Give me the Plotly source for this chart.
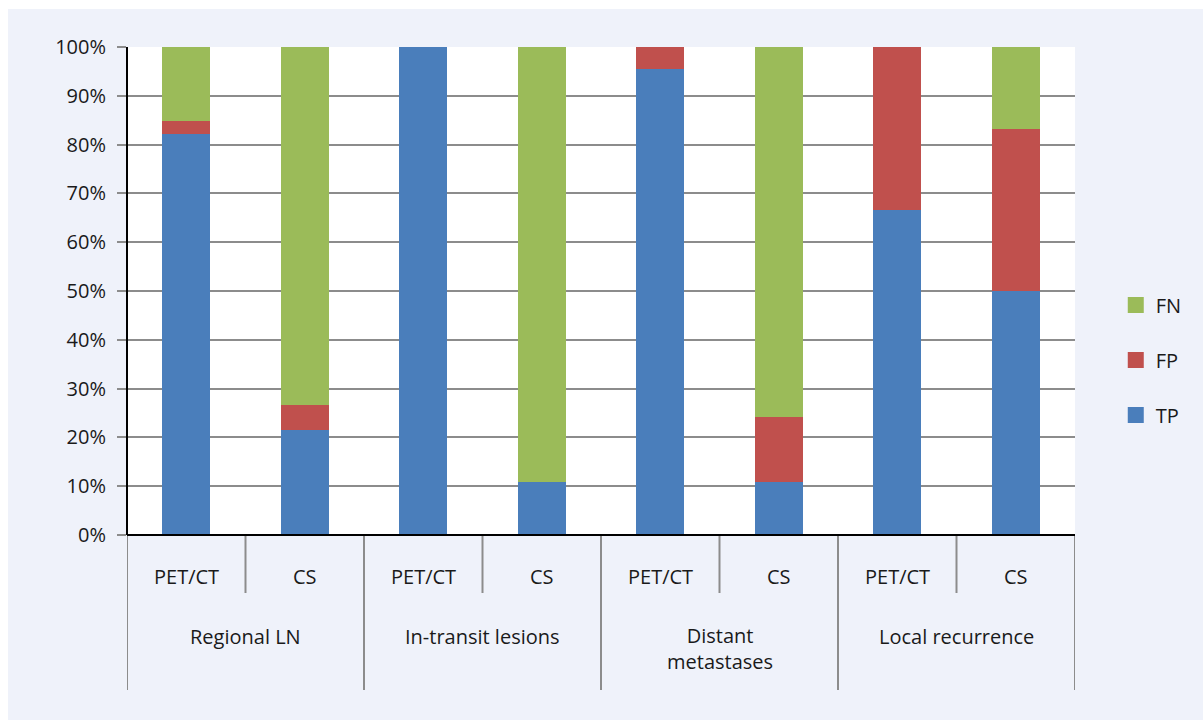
import plotly.graph_objects as go

groups = ["Regional LN", "In-transit lesions", "Distant<br>metastases", "Local recurrence"]
methods = ["PET/CT", "CS"]
tp = [82.2, 21.5, 100.0, 10.9, 95.5, 10.9, 66.7, 50.0]
fp = [2.6, 5.2, 0.0, 0.0, 4.5, 13.2, 33.3, 33.3]
fn = [15.2, 73.3, 0.0, 89.1, 0.0, 75.9, 0.0, 16.7]
y_ticks = [0, 10, 20, 30, 40, 50, 60, 70, 80, 90, 100]

series = [("TP", tp, "#4A7EBB"), ("FP", fp, "#C0504D"), ("FN", fn, "#9BBB59")]

FONT = "Open Sans, Noto Sans, sans-serif"
FS = 20
TXT = "#1a1a1a"
GRID = "#8c8c8c"

x = list(range(len(tp)))
fig = go.Figure()
for name, vals, col in series:
    fig.add_trace(go.Bar(x=x, y=vals, name=name, marker=dict(color=col, line=dict(width=0)),
                         width=0.405, showlegend=False))
# legend entries (top to bottom: FN, FP, TP)
for name, vals, col in reversed(series):
    fig.add_trace(go.Scatter(x=[None], y=[None], mode="markers", name=name,
                             legendgroup=name,
                             marker=dict(symbol="square", size=16, color=col)))

shapes = []
# white margin strips at top/left
shapes.append(dict(type="rect", xref="paper", yref="paper", x0=-0.2, x1=1.2,
                   y0=(535 - 9) / 488, y1=1.2, fillcolor="white", line=dict(width=0), layer="below"))
shapes.append(dict(type="rect", xref="paper", yref="paper", x0=-0.2, x1=(8 - 127) / 948,
                   y0=-0.5, y1=1.2, fillcolor="white", line=dict(width=0), layer="below"))
# group dividers
for gx in [-0.5, 1.5, 3.5, 5.5, 7.5]:
    shapes.append(dict(type="line", xref="x", yref="paper", x0=gx, x1=gx,
                       y0=0, y1=(535 - 690) / 488, line=dict(color=GRID, width=2)))
# inner dividers
for ix in [0.5, 2.5, 4.5, 6.5]:
    shapes.append(dict(type="line", xref="x", yref="paper", x0=ix, x1=ix,
                       y0=0, y1=(535 - 593) / 488, line=dict(color=GRID, width=2)))
# axis lines
shapes.append(dict(type="line", xref="paper", yref="paper", x0=0, x1=1, y0=0, y1=0,
                   line=dict(color="black", width=2)))
shapes.append(dict(type="line", xref="paper", yref="paper", x0=0, x1=0, y0=0, y1=1,
                   line=dict(color="black", width=2)))

annotations = []
for i in x:
    annotations.append(dict(x=i, y=(535 - 576) / 488, xref="x", yref="paper",
                            text=methods[i % 2], showarrow=False, yanchor="middle",
                            font=dict(family=FONT, size=FS, color=TXT)))
for g, name in enumerate(groups):
    ypx = 648 if "<br>" in name else 636
    annotations.append(dict(x=2 * g + 0.5, y=(535 - ypx) / 488, xref="x", yref="paper",
                            text=name, showarrow=False, yanchor="middle",
                            font=dict(family=FONT, size=FS, color=TXT)))

fig.update_layout(
    width=1203, height=720,
    barmode="stack",
    paper_bgcolor="#eff2fa",
    plot_bgcolor="white",
    margin=dict(l=127, r=128, t=47, b=185),
    font=dict(family=FONT, size=FS, color=TXT),
    shapes=shapes,
    annotations=annotations,
    legend=dict(x=1.043, xanchor="left", y=(535 - 360) / 488, yanchor="middle",
                traceorder="grouped", tracegroupgap=26, itemwidth=30,
                font=dict(family=FONT, size=FS, color=TXT), bgcolor="rgba(0,0,0,0)"),
    xaxis=dict(range=[-0.5, 7.5], showticklabels=False, showgrid=False, zeroline=False,
               showline=False, ticks="", fixedrange=True),
    yaxis=dict(range=[0, 100], tickvals=y_ticks, ticktext=[f"{v}%" for v in y_ticks],
               showgrid=True, gridcolor=GRID, gridwidth=2, zeroline=False,
               showline=False, ticks="outside", ticklen=9, tickwidth=2, tickcolor=GRID,
               ticklabelstandoff=7, tickfont=dict(family=FONT, size=FS, color=TXT)),
    bargap=0.6,
)

fig.write_html("out.html")
